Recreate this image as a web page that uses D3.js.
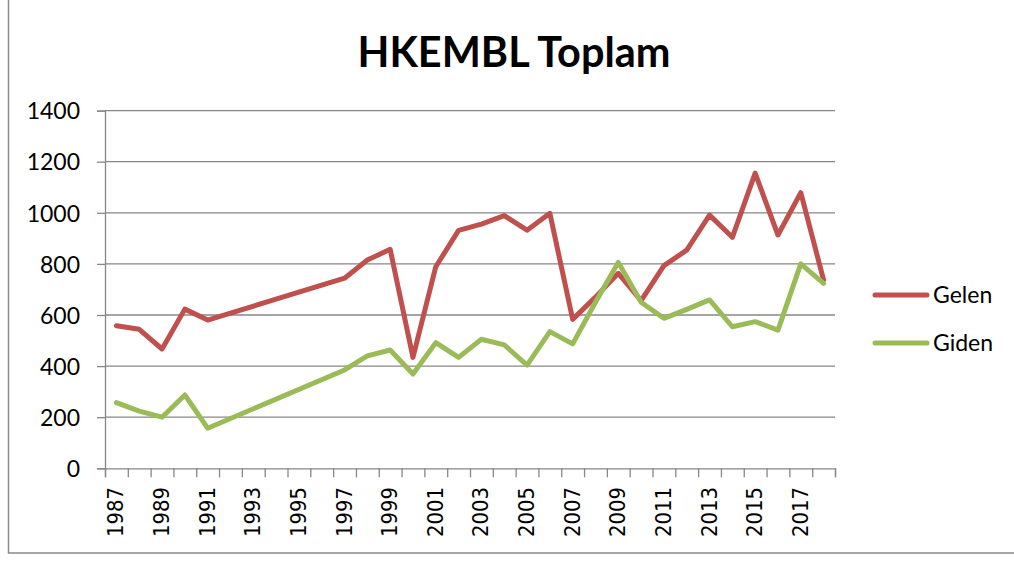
<!DOCTYPE html>
<html><head><meta charset="utf-8">
<script src="https://cdn.jsdelivr.net/npm/d3@7"></script>
<style>
html,body{margin:0;padding:0;background:#fff;}
svg{display:block;}
</style></head>
<body>
<svg id="chart" width="1014" height="561"></svg>
<script>
const years = [1987,1988,1989,1990,1991,1992,1993,1994,1995,1996,1997,1998,1999,2000,2001,2002,2003,2004,2005,2006,2007,2008,2009,2010,2011,2012,2013,2014,2015,2016,2017,2018];
const gelen = [558,544,467,623,580,null,null,null,null,null,744,815,857,434,789,931,956,989,932,998,583,670,763,656,793,854,991,904,1155,913,1079,737];
const giden = [257,224,200,287,157,null,null,null,null,null,385,440,463,369,492,434,505,483,404,535,487,650,806,650,587,622,659,554,574,541,800,724];
const yTicks = [0,200,400,600,800,1000,1200,1400];
const xLabelYears = [1987,1989,1991,1993,1995,1997,1999,2001,2003,2005,2007,2009,2011,2013,2015,2017];
const seriesNames = ["Gelen","Giden"];
const seriesColors = ["#C0504D","#9BBB59"];

const svg = d3.select("#chart");
const L = 105, R = 835, T = 110.6, B = 468.3;
const grey = "#878787";

// outer frame
svg.append("rect").attr("x",8.5).attr("y",-2).attr("width",1100).attr("height",555)
  .attr("fill","none").attr("stroke","#8a8a8a").attr("stroke-width",1.5);

const x = d3.scaleBand().domain(years).range([L,R]).padding(0);
const y = d3.scaleLinear().domain([0,1400]).range([B,T]);
const xi = d3.scaleLinear().domain([0,years.length]).range([L,R]);

// gridlines
svg.append("g").selectAll("line").data(yTicks.filter(d=>d>0)).join("line")
  .attr("x1",L).attr("x2",R).attr("y1",d=>y(d)).attr("y2",d=>y(d))
  .attr("stroke",grey).attr("stroke-width",1.3);

// y axis
const gy = svg.append("g").attr("transform",`translate(${L},0)`)
  .call(d3.axisLeft(y).tickValues(yTicks).tickSize(8).tickPadding(17).tickFormat(d3.format("d")));
gy.select(".domain").attr("stroke",grey).attr("stroke-width",1.3);
gy.selectAll(".tick line").attr("stroke",grey).attr("stroke-width",1.3);
gy.selectAll(".tick text").attr("font-family","Lato, 'Open Sans', sans-serif").attr("font-size",23).attr("fill","#000").attr("dy","0.36em");

// x axis ticks (band edges)
const gx = svg.append("g").attr("transform",`translate(0,${B})`)
  .call(d3.axisBottom(xi).tickValues(d3.range(years.length+1)).tickSize(9).tickFormat(""));
gx.select(".domain").attr("stroke",grey).attr("stroke-width",1.3);
gx.selectAll(".tick line").attr("stroke",grey).attr("stroke-width",1.3);

// x labels
svg.append("g").selectAll("text").data(xLabelYears).join("text")
  .attr("transform",d=>`translate(${x(d)+x.bandwidth()/2+7},${487}) rotate(-90)`)
  .attr("text-anchor","end")
  .attr("font-family","'DejaVu Sans', sans-serif").attr("font-size",22)
  .attr("textLength",50).attr("lengthAdjust","spacingAndGlyphs")
  .attr("fill","#000").text(d=>d);

// lines
const line = d3.line().x(d=>x(d.year)+x.bandwidth()/2).y(d=>y(d.v));
[gelen,giden].forEach((vals,i)=>{
  const pts = years.map((yr,k)=>({year:yr,v:vals[k]})).filter(d=>d.v!=null);
  svg.append("path").datum(pts).attr("d",line)
    .attr("fill","none").attr("stroke",seriesColors[i]).attr("stroke-width",5)
    .attr("stroke-linejoin","round").attr("stroke-linecap","round");
});

// title
svg.append("text").attr("x",514).attr("y",67).attr("text-anchor","middle")
  .attr("font-family","Lato, 'Open Sans', sans-serif").attr("font-weight","bold").attr("font-size",42)
  .attr("textLength",313).attr("lengthAdjust","spacingAndGlyphs")
  .attr("fill","#000").text("HKEMBL Toplam");

// legend
const lg = svg.append("g");
seriesNames.forEach((n,i)=>{
  const yy = 295 + i*48;
  lg.append("line").attr("x1",875).attr("x2",927).attr("y1",yy).attr("y2",yy)
    .attr("stroke",seriesColors[i]).attr("stroke-width",5).attr("stroke-linecap","round");
  lg.append("text").attr("x",933).attr("y",yy).attr("dy","0.36em")
    .attr("font-family","Lato, 'Open Sans', sans-serif").attr("font-size",23)
    .attr("fill","#000").text(n);
});
</script>
</body></html>
